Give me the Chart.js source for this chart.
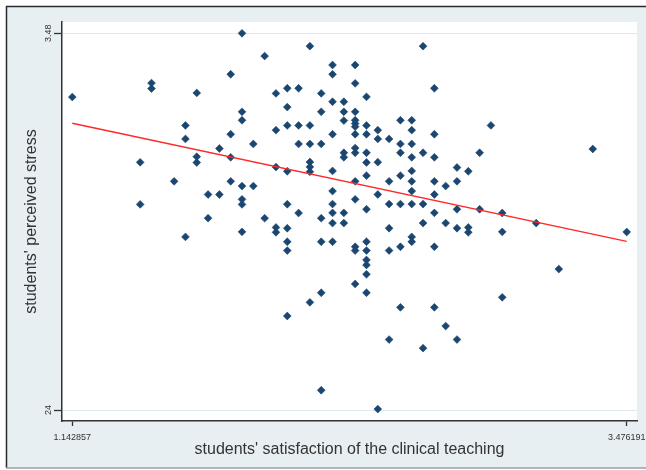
<!DOCTYPE html>
<html><head><meta charset="utf-8">
<script src="https://cdn.jsdelivr.net/npm/chart.js@4.4.1/dist/chart.umd.min.js"></script>
<style>html,body{margin:0;padding:0;background:#fff;overflow:hidden}#wrap{position:relative;width:646px;height:470px}</style>
</head><body><div id="wrap"><canvas id="c" width="646" height="470"></canvas></div>
<script>
// students' satisfaction of the clinical teaching (x) for each student
const satisfaction = [
  1.142857,
  1.428571, 1.428571,
  1.476190, 1.476190,
  1.571429,
  1.619048, 1.619048, 1.619048,
  1.666667, 1.666667, 1.666667,
  1.714286, 1.714286,
  1.761905, 1.761905,
  1.809524, 1.809524, 1.809524, 1.809524,
  1.857143, 1.857143, 1.857143, 1.857143, 1.857143, 1.857143, 1.857143,
  1.904762, 1.904762,
  1.952381, 1.952381,
  2.000000, 2.000000, 2.000000, 2.000000, 2.000000,
  2.047619, 2.047619, 2.047619, 2.047619, 2.047619, 2.047619, 2.047619, 2.047619, 2.047619,
  2.095238, 2.095238, 2.095238, 2.095238,
  2.142857, 2.142857, 2.142857, 2.142857, 2.142857, 2.142857, 2.142857,
  2.190476, 2.190476, 2.190476, 2.190476, 2.190476, 2.190476, 2.190476,
  2.238095, 2.238095, 2.238095, 2.238095, 2.238095, 2.238095, 2.238095, 2.238095, 2.238095, 2.238095,
  2.285714, 2.285714, 2.285714, 2.285714, 2.285714, 2.285714, 2.285714,
  2.333333, 2.333333, 2.333333, 2.333333, 2.333333, 2.333333, 2.333333, 2.333333, 2.333333, 2.333333, 2.333333, 2.333333, 2.333333, 2.333333,
  2.380952, 2.380952, 2.380952, 2.380952, 2.380952, 2.380952, 2.380952, 2.380952, 2.380952, 2.380952, 2.380952, 2.380952, 2.380952,
  2.428571, 2.428571, 2.428571, 2.428571, 2.428571,
  2.476190, 2.476190, 2.476190, 2.476190, 2.476190, 2.476190,
  2.523810, 2.523810, 2.523810, 2.523810, 2.523810, 2.523810, 2.523810,
  2.571429, 2.571429, 2.571429, 2.571429, 2.571429, 2.571429, 2.571429, 2.571429, 2.571429, 2.571429,
  2.619048, 2.619048, 2.619048, 2.619048, 2.619048,
  2.666667, 2.666667, 2.666667, 2.666667, 2.666667, 2.666667, 2.666667, 2.666667,
  2.714286, 2.714286, 2.714286,
  2.761905, 2.761905, 2.761905, 2.761905, 2.761905,
  2.809524, 2.809524, 2.809524,
  2.857143, 2.857143,
  2.904762,
  2.952381, 2.952381, 2.952381,
  3.095238,
  3.190476,
  3.333333,
  3.476191
];
// students' perceived stress (y) for each student
const stress = [
  43.94,
  39.78, 37.10,
  44.83, 44.48,
  38.57,
  42.13, 41.27, 35.03,
  44.20, 40.14, 39.77,
  37.73, 36.22,
  40.66, 37.73,
  45.39, 41.57, 40.10, 38.57,
  48.00, 43.00, 42.46, 38.27, 37.42, 37.10, 35.35,
  40.95, 38.27,
  46.55, 36.22,
  44.17, 41.83, 39.48, 35.63, 35.32,
  44.50, 43.30, 42.13, 39.21, 37.11, 35.58, 34.72, 34.16, 29.99,
  44.50, 42.13, 40.95, 36.55,
  47.18, 42.13, 40.95, 39.80, 39.49, 39.18, 30.86,
  44.17, 43.00, 40.95, 36.22, 34.72, 31.47, 25.26,
  45.98, 45.39, 43.64, 41.57, 39.23, 37.95, 37.12, 36.56, 35.91, 34.72,
  43.64, 43.00, 42.44, 40.39, 40.10, 36.56, 35.91,
  45.98, 44.81, 43.00, 42.46, 42.25, 42.05, 41.57, 40.69, 40.39, 38.57, 37.42, 34.40, 34.16, 32.03,
  43.95, 42.13, 41.57, 40.39, 39.77, 38.93, 36.79, 34.72, 34.16, 33.56, 33.24, 32.65, 31.47,
  41.83, 41.27, 39.79, 37.73, 24.06,
  41.27, 38.57, 37.12, 35.58, 34.16, 28.49,
  42.46, 40.95, 40.39, 38.93, 37.12, 34.40, 30.54,
  42.46, 41.83, 40.95, 40.10, 39.23, 38.57, 37.95, 37.12, 35.03, 34.72,
  47.18, 40.39, 37.12, 35.91, 27.94,
  44.50, 41.57, 40.10, 38.57, 37.73, 36.56, 34.40, 30.54,
  38.27, 35.91, 29.35,
  39.45, 38.57, 36.79, 35.58, 28.49,
  39.21, 35.63, 35.32,
  40.39, 36.79,
  42.13,
  36.55, 35.35, 31.18,
  35.91,
  32.98,
  40.63,
  35.34
];
// fitted (linear) line end points
const fitX = [1.142857, 3.476191];
const fitY = [42.27, 34.75];
// tick values and labels
const xTickValues = [1.142857, 3.476191];
const xTickLabels = ['1.142857', '3.476191'];
const yTickValues = [24, 48];
const yTickLabels = ['24', '3.48'];
const xTitle = "students' satisfaction of the clinical teaching";
const yTitle = "students' perceived stress";

const points = satisfaction.map((x, i) => ({x: x, y: stress[i]}));
const fitPoints = fitX.map((x, i) => ({x: x, y: fitY[i]}));

const bgPlugin = {
  id: 'bg',
  beforeDraw(chart) {
    const {ctx, chartArea: a} = chart;
    const W = chart.width;
    ctx.save();
    ctx.fillStyle = '#ffffff';
    ctx.fillRect(0, 0, W, chart.height);
    ctx.fillStyle = 'rgb(231,239,243)';
    ctx.fillRect(6, 6, W - 6, 462);
    ctx.strokeStyle = '#2a2a2a';
    ctx.lineWidth = 1.5;
    ctx.beginPath();
    ctx.moveTo(6, 6.5); ctx.lineTo(W, 6.5);
    ctx.moveTo(6.5, 6); ctx.lineTo(6.5, 468);
    ctx.stroke();
    ctx.strokeStyle = '#9aa0a3';
    ctx.beginPath();
    ctx.moveTo(6, 468); ctx.lineTo(W, 468);
    ctx.stroke();
    ctx.fillStyle = '#ffffff';
    ctx.fillRect(a.left, a.top, a.right - a.left, a.bottom - a.top);
    ctx.restore();
  }
};

const tickFont = {family: "'Liberation Sans', Arial, sans-serif", size: 9};
const titleFont = {family: "'Liberation Sans', Arial, sans-serif", size: 16};

function noPad(s) { s.paddingLeft = 0; s.paddingRight = 0; s.paddingTop = 0; s.paddingBottom = 0; }

new Chart(document.getElementById('c'), {
  type: 'scatter',
  data: {
    datasets: [
      {
        label: 'fit',
        data: fitPoints,
        showLine: true,
        borderColor: 'rgb(255,40,40)',
        borderWidth: 1.3,
        pointRadius: 0,
        order: 0
      },
      {
        label: 'students',
        data: points,
        pointStyle: 'rectRot',
        pointRadius: 3.9,
        pointBackgroundColor: '#1a4670',
        pointBorderColor: '#1a4670',
        pointBorderWidth: 0.6,
        order: 1
      }
    ]
  },
  options: {
    responsive: false,
    animation: false,
    devicePixelRatio: 1,
    layout: {padding: {top: 22, right: 9, left: 0, bottom: 0}},
    plugins: {legend: {display: false}, tooltip: {enabled: false}},
    scales: {
      x: {
        type: 'linear',
        min: 1.0995,
        max: 3.5195,
        afterBuildTicks(s) { s.ticks = xTickValues.map(v => ({value: v})); },
        afterFit(s) { s.height = 49; noPad(s); },
        ticks: {
          callback: (v) => xTickLabels[xTickValues.indexOf(v)],
          font: tickFont, color: '#333', padding: 6, maxRotation: 0, autoSkip: false
        },
        grid: {drawOnChartArea: false, tickLength: 5, tickColor: '#333', tickWidth: 1.3},
        border: {display: true, color: '#333', width: 1.5},
        title: {display: true, text: xTitle, font: titleFont, color: '#333', padding: {top: 0, bottom: 11}}
      },
      y: {
        type: 'linear',
        min: 23.30,
        max: 48.72,
        afterBuildTicks(s) { s.ticks = yTickValues.map(v => ({value: v})); },
        afterFit(s) { s.width = 62; noPad(s); },
        ticks: {
          callback: (v) => yTickLabels[yTickValues.indexOf(v)],
          font: tickFont, color: '#333', padding: -3, minRotation: 90, maxRotation: 90,
          crossAlign: 'center', autoSkip: false
        },
        grid: {drawOnChartArea: true, color: 'rgb(222,234,240)', lineWidth: 1, tickLength: 8, tickColor: '#333', tickWidth: 1.3},
        border: {display: true, color: '#333', width: 1.5},
        title: {display: true, text: yTitle, font: titleFont, color: '#333', padding: {top: 22, bottom: 0}}
      }
    }
  },
  plugins: [bgPlugin]
});
</script>
</body></html>
